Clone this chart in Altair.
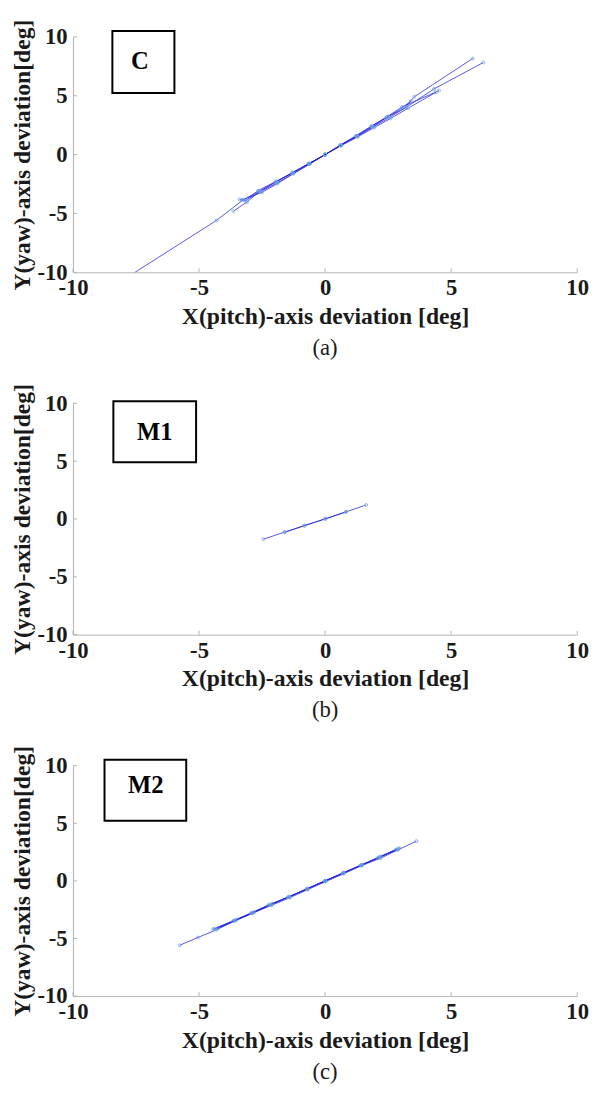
import altair as alt
import pandas as pd

# ---------------- data ----------------
ticks = [-10, -5, 0, 5, 10]

# Panel (a) "C" series
a1_x = [0, 0.61, 1.26, 1.85, 2.50, 3.15, 3.54, 5.86]
a1_y = [0, 0.81, 1.58, 2.42, 3.25, 3.92, 4.92, 8.17]
a2_x = [0, 0.63, 1.28, 1.90, 2.55, 3.20, 4.32, 6.28]
a2_y = [0, 0.78, 1.55, 2.35, 3.15, 4.00, 5.58, 7.83]
a3_x = [0, 0.60, 1.22, 1.82, 2.45, 3.05, 4.52]
a3_y = [0, 0.80, 1.60, 2.40, 3.20, 4.05, 5.44]
a4_x = [0, 0.62, 1.24, 1.88, 2.40, 2.95, 3.40]
a4_y = [0, 0.79, 1.57, 2.36, 3.10, 3.80, 4.55]
a5_x = [0, -0.63, -1.28, -1.93, -2.58, -3.23, -4.30, -8.20]
a5_y = [0, -0.75, -1.50, -2.31, -3.08, -3.81, -5.58, -10.9]
a6_x = [0, -0.66, -1.32, -1.98, -2.62, -3.10, -3.64]
a6_y = [0, -0.78, -1.58, -2.35, -3.15, -4.03, -4.81]
a7_x = [0, -0.60, -1.25, -1.88, -2.50, -3.30]
a7_y = [0, -0.80, -1.62, -2.45, -3.20, -3.85]
a8_x = [0, -0.64, -1.30, -1.95, -2.66, -3.05]
a8_y = [0, -0.76, -1.55, -2.28, -3.05, -3.70]
a9_x = [0, 0.64, 1.30, 1.95, 2.60, 3.30, 4.40]
a9_y = [0, 0.77, 1.52, 2.30, 3.08, 3.95, 5.30]
a10_x = [0, -0.62, -1.27, -1.90, -2.54, -3.18, -3.40]
a10_y = [0, -0.79, -1.60, -2.40, -3.12, -3.92, -3.80]

# Panel (b) "M1" series
b1_x = [-2.45, -1.60, -0.82, 0.03, 0.83, 1.63]
b1_y = [-1.75, -1.13, -0.57, 0.03, 0.62, 1.21]
b2_x = [-1.60, -0.82, 0.00, 0.83]
b2_y = [-1.15, -0.58, 0.00, 0.60]

# Panel (c) "M2" series
c1_x = [-5.77, -5.05, -4.30, -3.59, -2.90, -2.12, -1.41, -0.69, 0.03, 0.74, 1.46, 2.20, 2.89, 3.62]
c1_y = [-5.59, -4.92, -4.24, -3.47, -2.82, -2.12, -1.47, -0.76, -0.06, 0.62, 1.33, 1.97, 2.69, 3.45]
c2_x = [-4.40, -3.60, -2.90, -2.20, -1.45, -0.70, 0.00, 0.72, 1.45, 2.18, 2.92]
c2_y = [-4.15, -3.42, -2.76, -2.05, -1.40, -0.68, 0.00, 0.68, 1.38, 2.05, 2.78]
c3_x = [-4.25, -3.50, -2.80, -2.10, -1.40, -0.70, 0.00, 0.70, 1.40, 2.10, 2.80]
c3_y = [-4.10, -3.35, -2.70, -2.00, -1.35, -0.66, 0.00, 0.66, 1.33, 2.00, 2.70]
c4_x = [-4.35, -3.55, -2.85, -2.15, -1.42, -0.71, 0.00, 0.71, 1.42, 2.15, 2.86]
c4_y = [-4.20, -3.45, -2.78, -2.08, -1.38, -0.70, 0.00, 0.69, 1.36, 2.08, 2.76]
c5_x = [-4.45, -3.65, -2.95, -2.25, -1.48, -0.72, 0.00, 0.73, 1.47, 2.22, 2.95]
c5_y = [-4.22, -3.50, -2.82, -2.12, -1.42, -0.70, 0.00, 0.70, 1.40, 2.12, 2.84]

panel_series = {
    "a": [(a1_x, a1_y), (a2_x, a2_y), (a3_x, a3_y), (a4_x, a4_y), (a9_x, a9_y),
          (a5_x, a5_y), (a6_x, a6_y), (a7_x, a7_y), (a8_x, a8_y), (a10_x, a10_y)],
    "b": [(b1_x, b1_y), (b2_x, b2_y)],
    "c": [(c1_x, c1_y), (c2_x, c2_y), (c3_x, c3_y), (c4_x, c4_y), (c5_x, c5_y)],
}
box_labels = {"a": "C", "b": "M1", "c": "M2"}
captions = {"a": "(a)", "b": "(b)", "c": "(c)"}

# ---------------- styles ----------------
FONT = "Liberation Serif"
W = 512
HEIGHTS = {"a": 239, "b": 235, "c": 234}
# annotation box (pixel offsets inside plot area): x, x2, y, y2, text x, text y
BOX = {
    "a": (40, 103, -6, 57, 68, 25),
    "b": (41, 125, -2, 60, 83, 29),
    "c": (32, 115, -6, 56, 74, 20),
}
LINE_COLOR = "#1f1fe0"
MARK_COLOR = "#6c9fe0"
AXIS_GRAY = "#b4b4b4"
TXT = "#1a1a1a"
LABEL_EXPR = "datum.value < 0 ? '-' + abs(datum.value) : '' + datum.value"

tick_df = pd.DataFrame({"t": ticks})


def panel(key):
    rows = []
    for si, (xs, ys) in enumerate(panel_series[key]):
        for oi, (xv, yv) in enumerate(zip(xs, ys)):
            rows.append({"series": f"{key}{si}", "order": oi, "x": xv, "y": yv})
    df = pd.DataFrame(rows)
    H = HEIGHTS[key]

    xscale = alt.Scale(domain=[-10, 10], nice=False, zero=False)
    yscale = alt.Scale(domain=[-10, 10], nice=False, zero=False)
    xaxis = alt.Axis(values=ticks, grid=False, ticks=False, domainColor=AXIS_GRAY,
                     domainWidth=1, labelFont=FONT, labelFontWeight="bold",
                     labelFontSize=23, labelColor=TXT, labelPadding=5,
                     labelExpr=LABEL_EXPR,
                     title="X(pitch)-axis deviation [deg]", titleFont=FONT,
                     titleFontWeight="bold", titleFontSize=24, titleColor=TXT,
                     titlePadding=5, labelFlush=False)
    yaxis = alt.Axis(values=ticks, grid=False, ticks=False, domainColor=AXIS_GRAY,
                     domainWidth=1, labelFont=FONT, labelFontWeight="bold",
                     labelFontSize=23, labelColor=TXT, labelPadding=6,
                     labelExpr=LABEL_EXPR,
                     title="Y(yaw)-axis deviation[deg]", titleFont=FONT,
                     titleFontWeight="bold", titleFontSize=24, titleColor=TXT,
                     titlePadding=3, labelFlush=False)

    base = alt.Chart(df)
    lines = base.mark_line(clip=True, color=LINE_COLOR, strokeWidth=0.75).encode(
        x=alt.X("x:Q", scale=xscale, axis=xaxis),
        y=alt.Y("y:Q", scale=yscale, axis=yaxis),
        detail="series:N",
        order="order:Q",
    )
    pts = base.mark_point(clip=True, shape="circle", size=9, filled=False,
                          color=MARK_COLOR, strokeWidth=0.8, opacity=0.9).encode(
        x="x:Q", y="y:Q"
    )
    xt = alt.Chart(tick_df).mark_rule(color=AXIS_GRAY, strokeWidth=1).encode(
        x=alt.X("t:Q", scale=xscale), y=alt.value(H), y2=alt.value(H - 4)
    )
    yt = alt.Chart(tick_df).mark_rule(color=AXIS_GRAY, strokeWidth=1).encode(
        y=alt.Y("t:Q", scale=yscale), x=alt.value(0), x2=alt.value(4)
    )
    bx0, bx1, by0, by1, tx, ty = BOX[key]
    lab_df = pd.DataFrame({"label": [box_labels[key]]})
    box = alt.Chart(lab_df).mark_rect(fill="white", stroke="black", strokeWidth=2).encode(
        x=alt.value(bx0), x2=alt.value(bx1), y=alt.value(by0), y2=alt.value(by1)
    )
    txt = alt.Chart(lab_df).mark_text(font=FONT, fontWeight="bold", fontSize=25,
                                      color="black", align="center",
                                      baseline="middle").encode(
        x=alt.value(tx), y=alt.value(ty), text="label:N"
    )
    return alt.layer(xt, yt, lines, pts, box, txt).properties(
        width=W, height=H,
        title=alt.TitleParams(captions[key], orient="bottom", font=FONT,
                              fontSize=23, fontWeight="normal", color=TXT,
                              offset=9, anchor="middle"),
    )


chart = alt.vconcat(panel("a"), panel("b"), panel("c"), spacing=133, bounds="flush").properties(
    padding={"top": 2, "left": 2, "right": 0, "bottom": 0}
).configure_view(stroke=None)

chart.save("out.html", embed_options={"renderer": "svg", "actions": False})
